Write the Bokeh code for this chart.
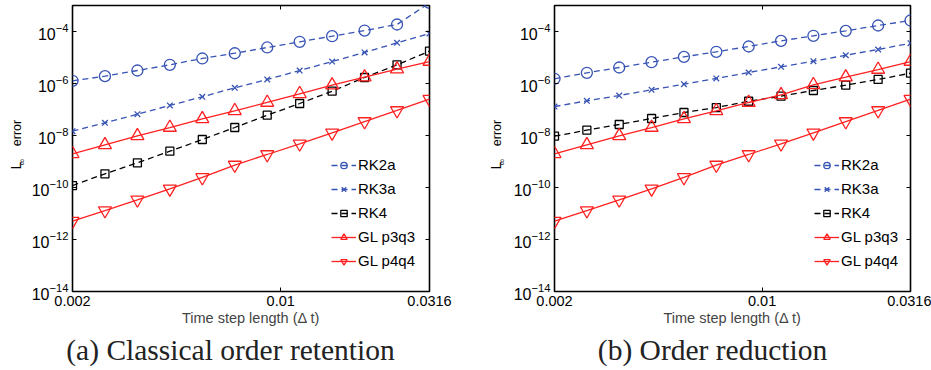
import math
from bokeh.plotting import figure
from bokeh.layouts import row, column
from bokeh.models import (LogAxis, FixedTicker, Legend, LegendItem, Label, Range1d,
                          PrintfTickFormatter)
from bokeh.embed import file_html
from bokeh.resources import INLINE

# ---------------- data ----------------
dt = [0.002, 0.0025703, 0.0033033, 0.0042454, 0.0054561, 0.0070121,
      0.0090118, 0.0115818, 0.0148846, 0.0191294, 0.0245845, 0.0316]

# (a) Classical order retention
a_rk2a = [1.27e-6, 1.91e-6, 3.16e-6, 5.24e-6, 9.17e-6, 1.46e-5, 2.43e-5, 4.02e-5, 6.59e-5, 1.09e-4, 1.86e-4, 1.26e-3]
a_rk3a = [1.46e-8, 3.08e-8, 6.59e-8, 1.43e-7, 3.08e-7, 6.84e-7, 1.43e-6, 3.16e-6, 7.01e-6, 1.56e-5, 3.67e-5, 8.38e-5]
a_rk4 = [1.19e-10, 3.37e-10, 8.91e-10, 2.49e-9, 7.01e-9, 2.03e-8, 6.04e-8, 1.70e-7, 5.06e-7, 1.70e-6, 5.24e-6, 1.75e-5]
a_gl33 = [1.98e-9, 4.38e-9, 9.73e-9, 2.03e-8, 4.38e-8, 8.91e-8, 1.86e-7, 4.02e-7, 8.61e-7, 1.75e-6, 3.55e-6, 7.01e-6]
a_gl44 = [5.06e-12, 1.30e-11, 3.37e-11, 8.91e-11, 2.43e-10, 7.32e-10, 1.86e-9, 4.80e-9, 1.27e-8, 3.45e-8, 9.17e-8, 2.49e-7]

# (b) Order reduction
b_rk2a = [1.52e-6, 2.58e-6, 4.12e-6, 6.59e-6, 1.06e-5, 1.66e-5, 2.65e-5, 4.38e-5, 6.84e-5, 1.06e-4, 1.70e-4, 2.65e-4]
b_rk3a = [1.30e-7, 2.16e-7, 3.45e-7, 5.73e-7, 9.40e-7, 1.56e-6, 2.65e-6, 4.38e-6, 7.21e-6, 1.22e-5, 2.03e-5, 3.55e-5]
b_rk4 = [9.40e-9, 1.60e-8, 2.65e-8, 4.51e-8, 7.67e-8, 1.19e-7, 2.08e-7, 3.25e-7, 5.38e-7, 8.61e-7, 1.43e-6, 2.49e-6]
b_gl33 = [1.98e-9, 4.38e-9, 9.73e-9, 2.03e-8, 4.38e-8, 8.91e-8, 1.86e-7, 3.67e-7, 8.91e-7, 1.75e-6, 3.45e-6, 7.01e-6]
b_gl44 = [5.06e-12, 1.30e-11, 3.37e-11, 8.91e-11, 2.43e-10, 7.32e-10, 1.86e-9, 4.80e-9, 1.27e-8, 3.45e-8, 9.17e-8, 2.49e-7]

series_names = ["RK2a", "RK3a", "RK4", "GL p3q3", "GL p4q4"]
x_ticks = [0.002, 0.01, 0.0316]
x_tick_labels = ["0.002", "0.01", "0.0316"]
y_ticks = [1e-14, 1e-12, 1e-10, 1e-8, 1e-6, 1e-4]
captions = ["(a) Classical order retention", "(b) Order reduction"]
x_label = "Time step length (\u0394 t)"
y_label_main = "L"
y_label_sub = "\u221e"
y_label_rest = "error"

# ---------------- style ----------------
SANS = "Liberation Sans"
SERIF = "Liberation Serif"
BLUE = "#3753b4"
RED = "#ff2020"
BLACK = "#000000"
MAIN_H = 334
CAP_H = 36
FRAME_TOP = 5
FRAME_H = 286
styles = [
    dict(color=BLUE, dash="6 4", marker="circle", size=11),
    dict(color=BLUE, dash="6 4", marker="x", size=8),
    dict(color=BLACK, dash="6 4", marker="square", size=8),
    dict(color=RED, dash="solid", marker="triangle", size=13),
    dict(color=RED, dash="solid", marker="inverted_triangle", size=13),
]


def style_axis(ax, show_labels, size="14.5px"):
    ax.axis_line_color = None
    ax.major_tick_in = 4
    ax.major_tick_out = 0
    ax.major_tick_line_color = BLACK
    ax.major_tick_line_width = 1
    ax.minor_tick_line_color = None
    ax.major_label_text_font = SANS
    ax.major_label_text_color = BLACK
    if show_labels:
        ax.major_label_text_font_size = size
        ax.major_label_standoff = 4
    else:
        ax.major_label_text_font_size = "1px"
        ax.major_label_text_alpha = 0
        ax.major_label_standoff = 0


def blank(width, height, top=0, bottom=0, y0=None, y1=None):
    if y0 is None:
        y0, y1 = height, 0
    f = figure(width=width, height=height, x_range=Range1d(0, width),
               y_range=Range1d(y0, y1), x_axis_location=None, y_axis_location=None,
               min_border_left=0, min_border_right=0,
               min_border_top=top, min_border_bottom=bottom,
               output_backend="svg", toolbar_location=None)
    f.grid.visible = False
    f.outline_line_color = None
    return f


def ylabel_fig(width, xc):
    # frame spans page y FRAME_TOP..FRAME_TOP+FRAME_H, data y == page y
    f = blank(width, MAIN_H, top=FRAME_TOP, bottom=MAIN_H - FRAME_TOP - FRAME_H,
              y0=FRAME_TOP + FRAME_H, y1=FRAME_TOP)
    kw = dict(angle=math.pi / 2, text_align="center", text_baseline="middle",
              text_font=SANS, text_color=BLACK)
    f.add_layout(Label(x=xc + 1, y=132.5, text=y_label_rest, text_font_size="12.5px", **kw))
    f.add_layout(Label(x=xc, y=165, text=y_label_main, text_font_size="14px", **kw))
    f.add_layout(Label(x=xc + 6.5, y=161.5, text=y_label_sub, text_font_size="9px", **kw))
    return f


def make_panel(data, width, left, right, legend_x):
    p = figure(width=width, height=MAIN_H, x_axis_type="log", y_axis_type="log",
               x_range=Range1d(0.002, 0.0316), y_range=Range1d(1e-14, 1e-3),
               output_backend="svg", toolbar_location=None,
               min_border_left=left, min_border_right=right,
               min_border_top=FRAME_TOP, min_border_bottom=MAIN_H - FRAME_TOP - FRAME_H)
    p.grid.visible = False
    p.outline_line_color = BLACK
    p.outline_line_width = 1.6
    p.background_fill_color = "white"
    p.border_fill_color = "white"

    xa = p.xaxis[0]
    ya = p.yaxis[0]
    xa.ticker = FixedTicker(ticks=x_ticks)
    xa.formatter = PrintfTickFormatter(format="%g")
    xa.major_label_overrides = {t: l for t, l in zip(x_ticks, x_tick_labels)}
    ya.ticker = FixedTicker(ticks=y_ticks)
    style_axis(xa, True)
    style_axis(ya, True, "16px")
    xa.axis_label = x_label
    xa.axis_label_text_font = SANS
    xa.axis_label_text_font_size = "14.5px"
    xa.axis_label_text_font_style = "normal"
    xa.axis_label_standoff = 1

    top = LogAxis(ticker=FixedTicker(ticks=x_ticks))
    style_axis(top, False)
    p.add_layout(top, "above")
    rgt = LogAxis(ticker=FixedTicker(ticks=y_ticks))
    style_axis(rgt, False)
    p.add_layout(rgt, "right")

    items = []
    for name, ys, st in zip(series_names, data, styles):
        ln = p.line(dt, ys, line_color=st["color"], line_width=1.3, line_dash=st["dash"])
        mk = p.scatter(dt, ys, marker=st["marker"], size=st["size"],
                       line_color=st["color"], fill_color=None, line_width=1.3)
        items.append(LegendItem(label=name, renderers=[ln, mk]))

    leg = Legend(items=items, location=(legend_x, 22), border_line_color=None,
                 background_fill_alpha=0, padding=0, margin=0, spacing=7,
                 glyph_width=25, glyph_height=16, label_height=16, label_standoff=2,
                 label_text_font=SANS, label_text_font_size="15px",
                 label_text_color=BLACK)
    p.add_layout(leg, "center")
    return p


ylab_a = ylabel_fig(28, 15)
pa = make_panel([a_rk2a, a_rk3a, a_rk4, a_gl33, a_gl44], 427, 41, 26, 259)
ylab_b = ylabel_fig(55, 40)
pb = make_panel([b_rk2a, b_rk3a, b_rk4, b_gl33, b_gl44], 421, 40, 21, 260)

cap = blank(931, CAP_H)
for txt, xc in zip(captions, [230, 712]):
    cap.add_layout(Label(x=xc, y=15.5, text=txt, text_align="center", text_baseline="middle",
                         text_font=SERIF, text_font_size="29.5px", text_color="#222222"))

layout = column(row(ylab_a, pa, ylab_b, pb), cap)
open("out.html", "w").write(file_html(layout, INLINE))
